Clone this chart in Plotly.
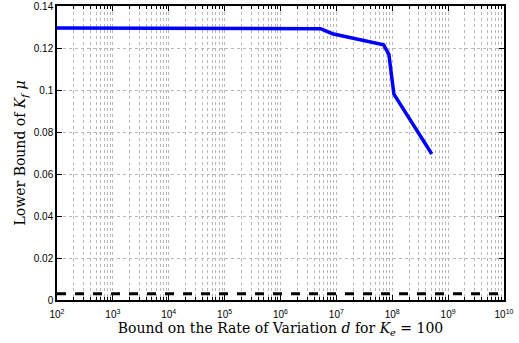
import plotly.graph_objects as go

d_vals = [1e2, 5.2e6, 8.5e6, 5.7e7, 7.0e7, 8.7e7, 1.07e8, 5.1e8]
kf_bound = [0.1295, 0.1292, 0.1268, 0.1218, 0.1215, 0.1170, 0.0980, 0.0695]
dash_x = [1e2, 1e10]
dash_y = [0.003, 0.003]
x_exps = list(range(2, 11))
y_ticks = [0, 0.02, 0.04, 0.06, 0.08, 0.1, 0.12, 0.14]
y_labels = ["0", "0.02", "0.04", "0.06", "0.08", "0.1", "0.12", "0.14"]

minor_vals = [k * 10**e for e in range(2, 10) for k in range(2, 10)]

fig = go.Figure()
fig.add_trace(go.Scatter(x=d_vals, y=kf_bound, mode="lines",
                         line=dict(color="#0000ff", width=3.5), showlegend=False))
fig.add_trace(go.Scatter(x=dash_x, y=dash_y, mode="lines",
                         line=dict(color="black", width=3, dash="dash"), showlegend=False))

grid_col = "#b8b8b8"
fig.update_xaxes(type="log", range=[2, 10], automargin=False,
                 tickvals=[10**e for e in x_exps],
                 ticktext=[f"10<sup>{e}</sup>" for e in x_exps],
                 ticks="inside", ticklen=5, tickcolor="black", ticklabelstandoff=4,
                 showline=True, linecolor="black", linewidth=1.5, mirror="ticks",
                 showgrid=True, gridcolor=grid_col, griddash="dot", gridwidth=1,
                 minor=dict(tickvals=minor_vals, ticks="inside", ticklen=3, tickcolor="black",
                            showgrid=True, gridcolor=grid_col, griddash="dot", gridwidth=1),
                 tickfont=dict(family="Liberation Sans, Arial", size=10, color="black"),
                 title=dict(text="Bound on the Rate of Variation <i>d</i> for <i>K<sub>e</sub></i> = 100",
                            font=dict(family="DejaVu Serif, Liberation Serif", size=14, color="black"),
                            standoff=0),
                 zeroline=False)
fig.update_yaxes(range=[0, 0.14], tickvals=y_ticks, ticktext=y_labels, automargin=False,
                 ticks="inside", ticklen=5, tickcolor="black",
                 showline=True, linecolor="black", linewidth=1.5, mirror="ticks",
                 showgrid=True, gridcolor=grid_col, griddash="dot", gridwidth=1,
                 tickfont=dict(family="Liberation Sans, Arial", size=10, color="black"),
                 title=dict(text="Lower Bound of <i>K<sub>f</sub> μ</i>",
                            font=dict(family="DejaVu Serif, Liberation Serif", size=14, color="black"),
                            standoff=5),
                 zeroline=False)
fig.update_layout(width=519, height=343, margin=dict(l=57, r=15, t=6, b=43),
                  plot_bgcolor="white", paper_bgcolor="white")
fig.write_html("out.html", config={"displayModeBar": False},
               post_script="document.body.style.margin='0';")
